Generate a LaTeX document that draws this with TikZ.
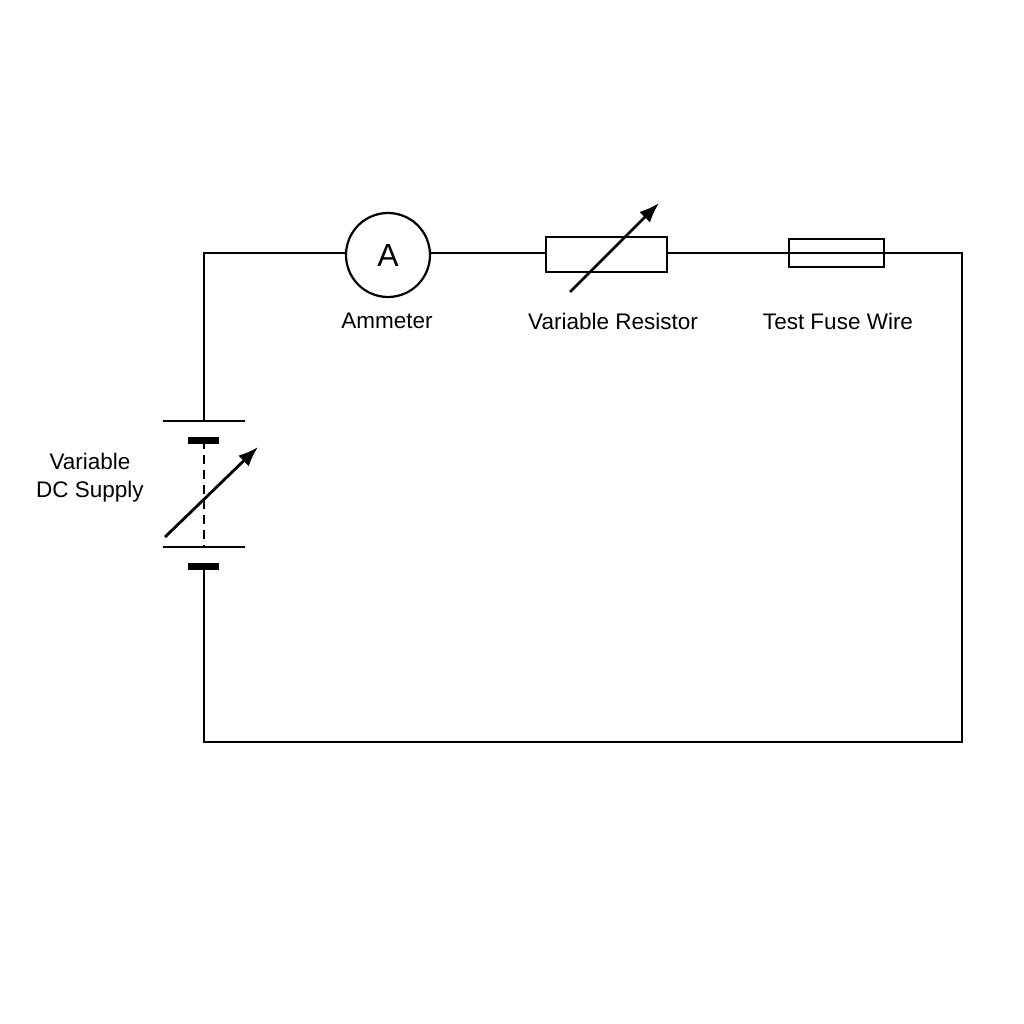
\documentclass[tikz,border=0pt]{standalone}
\usepackage{fontspec}
\setmainfont{Liberation Sans}
\usetikzlibrary{arrows.meta}
\begin{document}
\begin{tikzpicture}[x=1pt,y=-1pt,
  wire/.style={line width=2.2pt},
  lbl/.style={font=\fontsize{22.5}{28}\selectfont,align=center},
  varrow/.style={line width=2.8pt,-{Latex[length=20pt,width=15pt]}}]
\useasboundingbox (0,0) rectangle (1024,1024);
\coordinate (tl) at (204,253);
\coordinate (tr) at (962,253);
\coordinate (br) at (962,742);
\coordinate (bl) at (204,742);
\coordinate (b1) at (204,421);
\coordinate (b2) at (204,440);
\coordinate (b3) at (204,547);
\coordinate (b4) at (204,566);
\node[draw,circle,line width=2.2pt,minimum size=84pt,inner sep=0pt,font=\fontsize{32}{32}\selectfont] (am) at (388,255) {A};
\node[draw,rectangle,line width=2.2pt,minimum width=121pt,minimum height=35pt,inner sep=0pt] (res) at (606.5,254.5) {};
\node[draw,rectangle,line width=2.2pt,minimum width=95pt,minimum height=28pt,inner sep=0pt] (fuse) at (836.5,253) {};
\draw[wire] (b1) -- (tl) -- (am.west|-tl);
\draw[wire] (am.east|-tl) -- (res.west|-tl);
\draw[wire] (res.east|-tl) -- (tr) -- (br) -- (bl) -- (b4);
\draw[wire] (fuse.west) -- (fuse.east);
\draw[wire] (163,421) -- (245,421);
\draw[line width=7pt] (188,440) -- (219,440);
\draw[wire] (163,547) -- (245,547);
\draw[line width=7pt] (188,566) -- (219,566);
\draw[wire,dash pattern=on 9pt off 6pt] (b2) -- (b3);
\coordinate (va1) at (165,537); \coordinate (va2) at (258,447);
\draw[varrow] (va1) -- (va2);
\coordinate (ra1) at (570,292); \coordinate (ra2) at (659,203);
\draw[varrow] (ra1) -- (ra2);
\node[lbl] (l1) at (387,321) {Ammeter};
\node[lbl] (l2) at (613,321) {Variable Resistor};
\node[lbl] (l3) at (838,321) {Test Fuse Wire};
\node[lbl] (l4) at (90,478) {Variable\\DC Supply};
\end{tikzpicture}
\end{document}
